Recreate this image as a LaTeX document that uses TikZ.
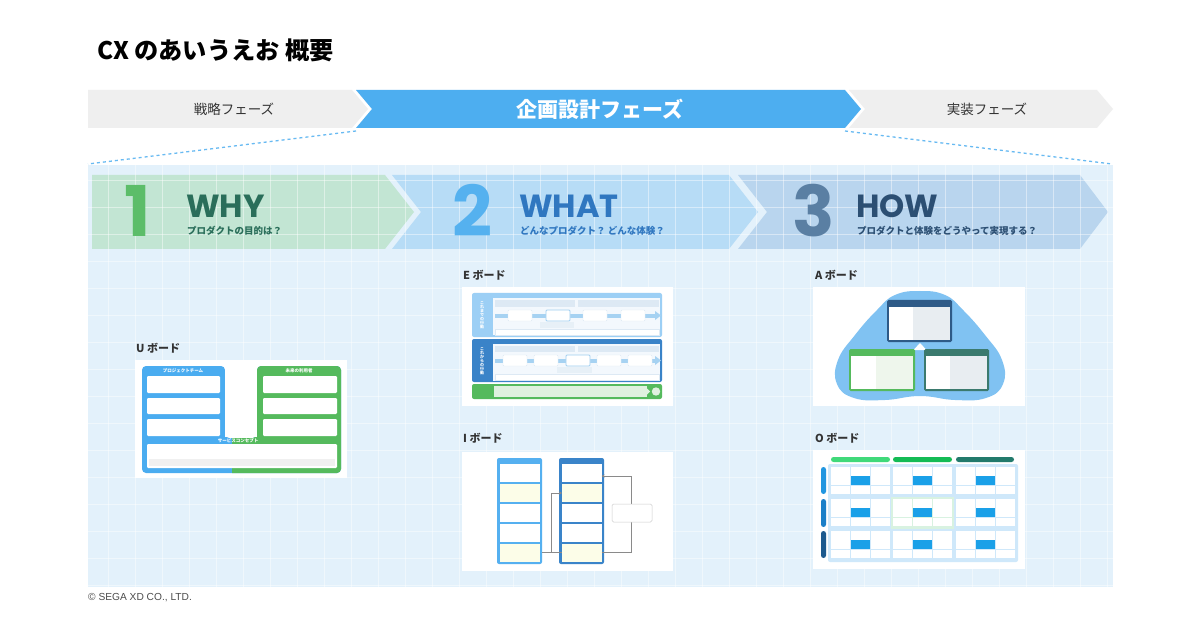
\documentclass[tikz,border=0pt]{standalone}
\usepackage{fontspec}
\setmainfont{Liberation Sans}
\newfontfamily\jp{Noto Sans CJK JP}
\newfontfamily\pop{Poppins}
\usetikzlibrary{arrows.meta}
\newcommand\fsz[1]{\fontsize{#1bp}{#1bp}\selectfont}
\definecolor{phgray}{HTML}{EFEFEF}
\definecolor{phblue}{HTML}{4DAEF0}
\definecolor{panelc}{HTML}{E3F1FB}
\definecolor{chg}{HTML}{C2E5D3}
\definecolor{chb}{HTML}{B7DCF6}
\definecolor{chs}{HTML}{B9D5EE}
\definecolor{numg}{HTML}{5CBD69}
\definecolor{txtg}{HTML}{2A6E5A}
\definecolor{numb}{HTML}{55B1EF}
\definecolor{txtb}{HTML}{3077C0}
\definecolor{nums}{HTML}{5A7FA3}
\definecolor{txts}{HTML}{2C4F73}
\definecolor{ublue}{HTML}{4AACF0}
\definecolor{ugreen}{HTML}{55BA5D}
\definecolor{elight}{HTML}{9CCFF5}
\definecolor{edark}{HTML}{3A83C8}
\definecolor{einner}{HTML}{F3F8FD}
\definecolor{ebox}{HTML}{DDE9F4}
\definecolor{eband}{HTML}{A6D2F2}
\definecolor{gpale}{HTML}{DFF1DF}
\definecolor{ipale}{HTML}{FCFDE8}
\definecolor{iblue}{HTML}{55B0F0}
\definecolor{idark}{HTML}{3A84C9}
\definecolor{iline}{HTML}{8A8A8A}
\definecolor{ablob}{HTML}{80C2F2}
\definecolor{anavy}{HTML}{2E5A87}
\definecolor{ateal}{HTML}{3B7A6E}
\definecolor{agray}{HTML}{E8EDF1}
\definecolor{agreen}{HTML}{EEF6EC}
\definecolor{obg}{HTML}{CFE8FA}
\definecolor{ocell}{HTML}{1AA0E8}
\definecolor{op1}{HTML}{40D97A}
\definecolor{op2}{HTML}{14BB55}
\definecolor{op3}{HTML}{227A6C}
\definecolor{ol1}{HTML}{2196E0}
\definecolor{ol2}{HTML}{1A7FC8}
\definecolor{ol3}{HTML}{1D5A8E}
\definecolor{ogreen}{HTML}{D8F2E1}
\tikzset{
  phtxt/.style={font=\jp\fsz{13.5}, text=black!80},
  phmain/.style={font=\jp\bfseries\fsz{21}, text=white},
  dashline/.style={phblue!85, line width=1.3bp, dash pattern=on 3bp off 3bp},
  gridline/.style={white, line width=0.9bp, opacity=0.45},
  bignum/.style={anchor=base west, inner sep=0, text depth=0pt, font=\pop\bfseries\fsz{70}},
  bigword/.style={anchor=base west, inner sep=0, text depth=0pt, font=\pop\bfseries\fsz{32}},
  subword/.style={anchor=base west, inner sep=0, text depth=0pt, text height=7bp, font=\jp\bfseries\fsz{9.5}},
  blabel/.style={anchor=west, inner sep=0, font=\jp\bfseries\fsz{11}, text=black!80},
  tiny/.style={inner sep=0, font=\jp\bfseries\fsz{4.5}, text=white},
  wbox/.style={fill=white, rounded corners=1.2bp},
  iarrow/.style={iline, line width=0.9bp, -{Stealth[length=3bp,width=3bp]}},
  iplain/.style={iline, line width=0.9bp},
}
\begin{document}
\begin{tikzpicture}[x=1bp,y=-1bp]
\useasboundingbox (0,0) rectangle (1200,630);
\fill[white] (0,0) rectangle (1200,630);

% title
\node[anchor=base west, inner sep=0, font=\jp\bfseries\fsz{24.2}] (title) at (97,60) {CX のあいうえお 概要};

% phase bar
\fill[phgray] (88,90) -- (352,90) -- (368,109) -- (352,128) -- (88,128) -- cycle;
\fill[phblue] (356,90) -- (845,90) -- (861,109) -- (845,128) -- (356,128) -- (372,109) -- cycle;
\fill[phgray] (849,90) -- (1097,90) -- (1113,109) -- (1097,128) -- (849,128) -- (865,109) -- cycle;
\node[phtxt] (p1) at (234,109) {戦略フェーズ};
\node[phmain] (p2) at (600,109) {企画設計フェーズ};
\node[phtxt] (p3) at (987,109) {実装フェーズ};

% dashed guides
\coordinate (dl1) at (356,131);
\coordinate (dl2) at (88,164);
\coordinate (dr1) at (845,131);
\coordinate (dr2) at (1112,164);
\draw[dashline] (dl1) -- (dl2);
\draw[dashline] (dr1) -- (dr2);

% panel
\fill[panelc] (88,165) rectangle (1113,587);
\fill[chg] (92,175) -- (385,175) -- (414,212) -- (385,249) -- (92,249) -- cycle;
\fill[chb] (392,175) -- (729,175) -- (758,212) -- (729,249) -- (392,249) -- (421,212) -- cycle;
\fill[chs] (738,175) -- (1080,175) -- (1108,212) -- (1080,249) -- (738,249) -- (767,212) -- cycle;
\foreach \gx in {108,135,...,1107} \draw[gridline] (\gx,165) -- (\gx,587);
\foreach \gy in {180,207,...,586} \draw[gridline] (88,\gy) -- (1113,\gy);

% stage texts
\node[bignum, text=numg] (n1) at (124,237) {1};
\node[bigword, text=txtg] (w1) at (186,218) {WHY};
\node[subword, text=txtg] (s1) at (187,235) {プロダクトの目的は？};
\node[bignum, text=numb] (n2) at (452,237) {2};
\node[bigword, text=txtb] (w2) at (519,218) {WHAT};
\node[subword, text=txtb] (s2) at (520,235) {どんなプロダクト？ どんな体験？};
\node[bignum, text=nums] (n3) at (792,237) {3};
\node[bigword, text=txts] (w3) at (856,218) {HOW};
\node[subword, text=txts] (s3) at (857,235) {プロダクトと体験をどうやって実現する？};

% board labels
\node[blabel] (lu) at (136,348) {U ボード};
\node[blabel] (le) at (463,275) {E ボード};
\node[blabel] (li) at (463,438) {I ボード};
\node[blabel] (la) at (815,275) {A ボード};
\node[blabel] (lo) at (815,438) {O ボード};

% ---------- U board ----------
\fill[white] (135,360) rectangle (347,478);
\fill[ublue, rounded corners=4bp] (142,366) -- (225,366) -- (225,438) -- (257,438) -- (257,366) -- (341,366) -- (341,473) -- (142,473) -- cycle;
\begin{scope}
\clip (232,360) rectangle (347,478);
\fill[ugreen, rounded corners=4bp] (142,366) -- (225,366) -- (225,438) -- (257,438) -- (257,366) -- (341,366) -- (341,473) -- (142,473) -- cycle;
\end{scope}
\fill[white] (225,366) rectangle (257,437);
\foreach \ya/\yb in {376/393, 398/414, 419/436} {
  \fill[wbox] (147,\ya) rectangle (220,\yb);
  \fill[wbox] (263,\ya) rectangle (337,\yb);
}
\fill[wbox] (147,444) rectangle (337,468);
\fill[black!6] (149,459) rectangle (335,466);
\node[tiny] (ut1) at (183,371) {プロジェクトチーム};
\node[tiny] (ut2) at (299,371) {未来の利用者};
\node[tiny] (ut3) at (238,440.5) {サービスコンセプト};

% ---------- E board ----------
\fill[white] (462,287) rectangle (673,406);
% section 1
\fill[elight, rounded corners=2bp] (472,293) rectangle (662,337);
\fill[einner] (493,298.5) rectangle (660,335);
\fill[ebox] (495,300) rectangle (575,307);
\fill[ebox] (578,300) rectangle (659,307);
\fill[eband] (495,313.5) rectangle (655,317.5);
\fill[eband] (655,311) -- (661,315.5) -- (655,320) -- cycle;
\foreach \xa in {508,546,583,621} \fill[white, draw=ebox, line width=0.4bp, rounded corners=1bp] (\xa,310) rectangle +(24,11);
\draw[eband, line width=0.8bp, rounded corners=1bp] (546,310) rectangle (570,321);
\fill[ebox!70] (540,322) rectangle (574,328);
\fill[white, draw=ebox, line width=0.4bp] (495,329) rectangle (659,335);
\node[tiny, text=white, align=center, font=\jp\bfseries\fsz{4}] (et1) at (482,315) {こ\\れ\\ま\\で\\の\\行\\動};
% section 2
\fill[edark, rounded corners=2bp] (472,339) rectangle (662,382);
\fill[einner] (493,344) rectangle (660,380.5);
\fill[ebox] (495,345.5) rectangle (575,352);
\fill[ebox] (578,345.5) rectangle (659,352);
\fill[eband] (495,358.5) rectangle (655,362.5);
\fill[eband] (655,356) -- (661,360.5) -- (655,365) -- cycle;
\foreach \xa in {503,534,566,597,628} \fill[white, draw=ebox, line width=0.4bp, rounded corners=1bp] (\xa,355) rectangle +(24,11);
\draw[eband, line width=0.8bp, rounded corners=1bp] (566,355) rectangle (590,366);
\fill[ebox!70] (557,367) rectangle (592,373);
\fill[white, draw=ebox, line width=0.4bp] (495,374.5) rectangle (659,380);
\node[tiny, text=white, align=center, font=\jp\bfseries\fsz{4}] (et2) at (482,361) {こ\\れ\\か\\ら\\の\\行\\動};
% section 3
\fill[ugreen, rounded corners=2bp] (472,384) rectangle (662,399);
\fill[gpale] (494,386) rectangle (647,397);
\fill[gpale] (647,388.5) -- (650,391.5) -- (647,394.5) -- cycle;
\fill[gpale] (656,391.5) circle (4.2);

% ---------- I board ----------
\fill[white] (462,452) rectangle (673,571);
\fill[iblue, rounded corners=2bp] (497,458) rectangle (542,564);
\fill[idark, rounded corners=2bp] (559,458) rectangle (604,564);
\foreach \cx in {500,562} {
  \fill[white] (\cx,464) rectangle +(39.5,18);
  \fill[ipale] (\cx,484) rectangle +(39.5,18);
  \fill[white] (\cx,504) rectangle +(39.5,18);
  \fill[white] (\cx,524) rectangle +(39.5,18);
  \fill[ipale] (\cx,544) rectangle +(39.5,18);
}
\coordinate (ia) at (542,552);
\coordinate (ib) at (551,552);
\coordinate (ic) at (551,493);
\coordinate (id) at (562,493);
\coordinate (ie) at (562,552);
\coordinate (if) at (601.5,552);
\coordinate (ig) at (631,552);
\coordinate (ih) at (631,476);
\coordinate (ii) at (601.5,476);
\draw[iplain] (ia) -- (ie);
\draw[iarrow] (ib) -- (ic) -- (id);
\draw[iarrow] (if) -- (ig) -- (ih) -- (ii);
\fill[white, draw=black!20, line width=0.5bp, rounded corners=1.5bp] (612,504) rectangle (652,522);

% ---------- A board ----------
\fill[white] (813,287) rectangle (1025,406);
\fill[ablob] plot[smooth cycle, tension=0.75] coordinates {(920,291) (945,295) (963,310) (985,335) (1002,360) (1003,384) (986,398) (955,400) (920,396) (885,400) (854,398) (837,384) (838,360) (855,335) (877,310) (895,295)};
\fill[anavy, rounded corners=1.5bp] (887,300) rectangle (952,342);
\fill[white] (889,307) rectangle (913,340);
\fill[agray] (913,307) rectangle (950,340);
\fill[white] (913.5,350) -- (920,343) -- (926.5,350) -- cycle;
\fill[ugreen, rounded corners=1.5bp] (849,349) rectangle (915,391);
\fill[white] (851,356) rectangle (876,389);
\fill[agreen] (876,356) rectangle (913,389);
\fill[ateal, rounded corners=1.5bp] (924,349) rectangle (989,391);
\fill[white] (926,356) rectangle (950,389);
\fill[agray] (950,356) rectangle (987,389);

% ---------- O board ----------
\fill[white] (813,450) rectangle (1025,569);
\fill[op1, rounded corners=2.5bp] (831,457) rectangle (890,462);
\fill[op2, rounded corners=2.5bp] (893,457) rectangle (952,462);
\fill[op3, rounded corners=2.5bp] (956,457) rectangle (1014,462);
\fill[ol1, rounded corners=2.5bp] (821,467) rectangle (826,494);
\fill[ol2, rounded corners=2.5bp] (821,499) rectangle (826,527);
\fill[ol3, rounded corners=2.5bp] (821,531) rectangle (826,558);
\fill[obg, rounded corners=2bp] (828,464) rectangle (1018,562);
\fill[ogreen] (891,497) rectangle (954,529);
\foreach \bx in {831,893,956} {
  \foreach \by in {467,499,531} {
    \foreach \i in {0,1,2} {
      \foreach \j in {0,1,2} {
        \pgfmathsetmacro\cxa{\bx+\i*19.9}
        \pgfmathsetmacro\cya{\by+\j*9.3}
        \fill[white] (\cxa,\cya) rectangle +(19.1,8.5);
      }
    }
    \fill[ocell] (\bx+19.9,\by+9.3) rectangle +(19.1,8.5);
  }
}

% footer
\node[anchor=base west, inner sep=0, font=\fsz{10.2}, text=black!70] (foot) at (88,600) {© SEGA XD CO., LTD.};
\end{tikzpicture}
\end{document}
